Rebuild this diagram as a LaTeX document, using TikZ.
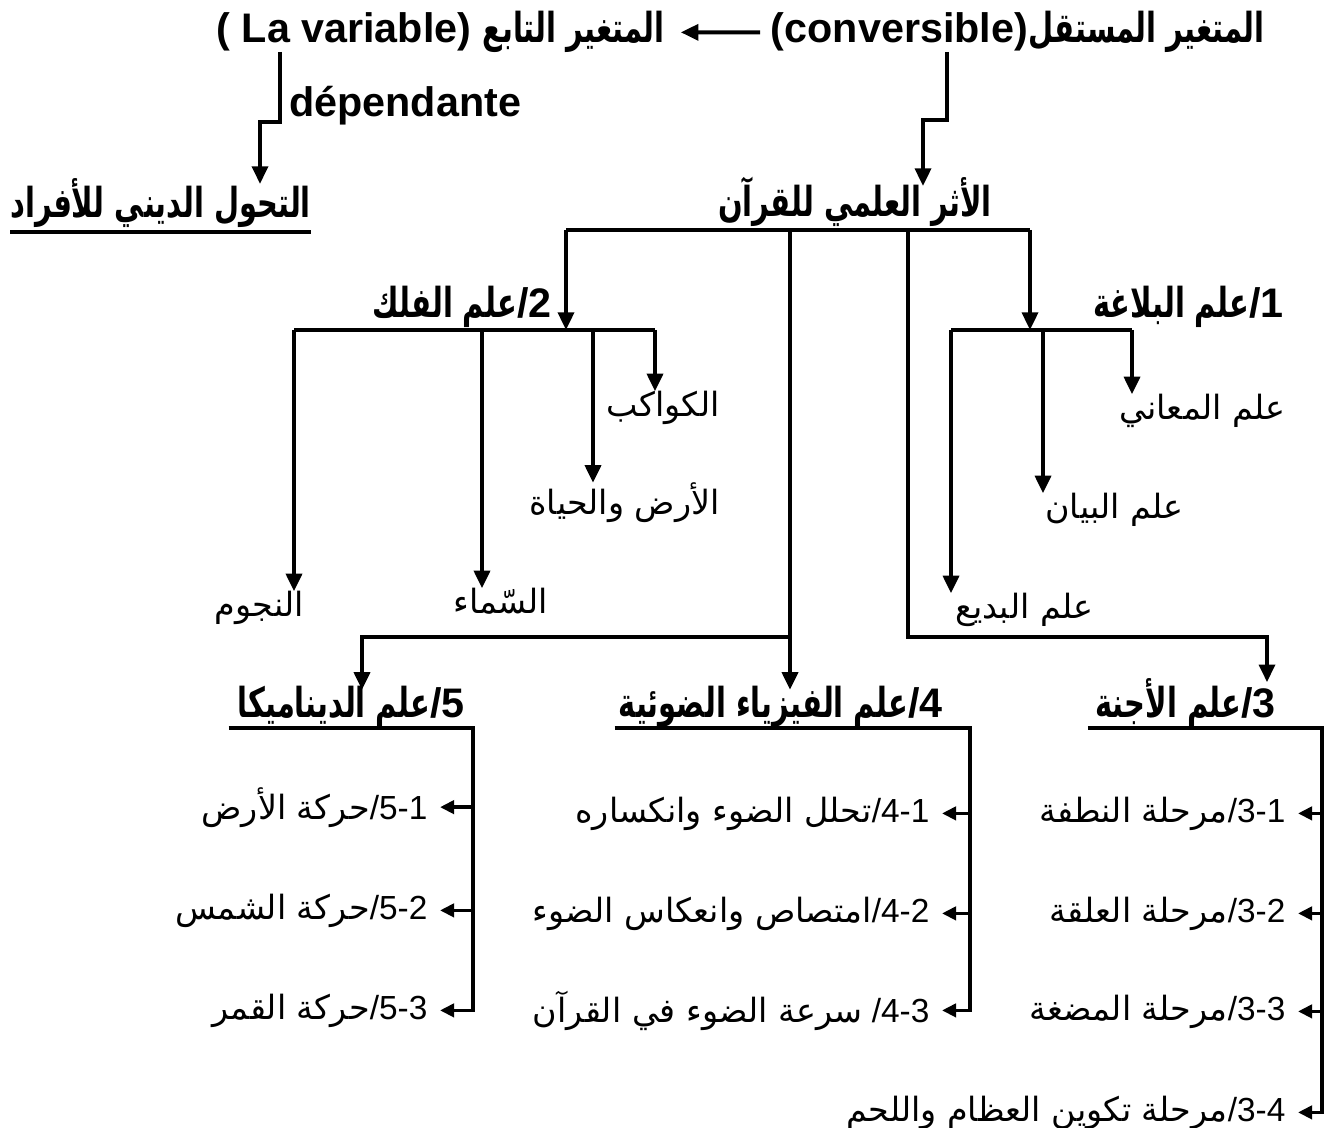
\documentclass[tikz,border=0pt]{standalone}
\usepackage{fontspec}
\setmainfont{Liberation Sans}
\newfontfamily\arabicfont[Script=Arabic, BoldFeatures={FakeStretch=0.70}]{DejaVu Sans}
\TeXXeTstate=1
\usetikzlibrary{arrows.meta}
\newcommand{\arb}[1]{{\arabicfont\beginR #1\endR}}
\tikzset{
  txt/.style={inner sep=0pt, font=\fontsize{19}{22}\selectfont},
  head/.style={inner sep=0pt, font=\fontsize{23.5}{27}\selectfont\bfseries},
  item/.style={txt, anchor=base east, inner xsep=7pt},
  line/.style={line width=2.2pt},
  arr/.style={line, -{Triangle[width=9pt,length=10pt]}},
  sarr/.style={line width=2pt, -{Triangle[width=7.5pt,length=8pt]}},
}
\begin{document}
\begin{tikzpicture}[x=0.02cm,y=-0.02cm]
\useasboundingbox (0,0) rectangle (1340,1128);
% variables
\node[head,anchor=base east] (indep) at (1265,43) {\arb{المتغير المستقل}};
\node[head,anchor=base east] (conv) at (indep.base west) {(conversible)};
\node[head,anchor=base east] (dep) at (665,43) {\arb{المتغير التابع}};
\node[head,anchor=base east] (lavar) at ([xshift=-6pt]dep.base west) {( La variable)};
\node[head,anchor=base west] (depb) at (289,117) {dépendante};
\node[head,anchor=base west] (tahawul) at (10,218) {\arb{التحول الديني للأفراد}};
\node[head,anchor=base] (athar) at (855,217) {\arb{الأثر العلمي للقرآن}};
\draw[arr] ([xshift=-6pt]conv.west) -- ([xshift=9pt]dep.east);
\draw[line] ([yshift=-8pt]tahawul.base west) -- ([yshift=-8pt]tahawul.base east);
% jogs down from the variables
\coordinate (j1) at (280,122);
\coordinate (j2) at (260,122);
\draw[arr] (j1 |- lavar.south) -- (j1) -- (j2) -- ([yshift=-3pt]j2 |- tahawul.north);
\coordinate (j3) at (947,120);
\coordinate (j4) at (923,120);
\draw[arr] (j3 |- conv.south) -- (j3) -- (j4) -- ([yshift=-5pt]j4 |- athar.north);
% main branches
\node[head,anchor=base east] (balagha) at (1284,318) {\arb{علم البلاغة}/1};
\node[head,anchor=base east] (falak) at (552,318) {\arb{علم الفلك}/2};
\node[head,anchor=base east] (ajinna) at (1276,718) {\arb{علم الأجنة}/3};
\node[head,anchor=base east] (phys) at (943,718) {\arb{علم الفيزياء الضوئية}/4};
\node[head,anchor=base east] (dyn) at (465,718) {\arb{علم الديناميكا}/5};
\coordinate (r2) at (566,230);
\coordinate (r5) at (790,230);
\coordinate (r3) at (908,230);
\coordinate (r1) at (1030,230);
\coordinate (s2) at (566,330);
\coordinate (s1) at (1030,330);
\draw[line] (r2) -- (r1);
\draw[arr] (r2) -- (s2);
\draw[arr] (r1) -- (s1);
\coordinate (b5) at (790,637);
\coordinate (t5) at (362,637);
\coordinate (b3) at (908,637);
\coordinate (t3) at (1267,637);
\draw[arr] (r5) -- ([yshift=-2pt]r5 |- phys.north);
\draw[arr] (b5) -- (t5) -- ([yshift=-2pt]t5 |- dyn.north);
\draw[arr] (r3) -- (b3) -- (t3) -- ([yshift=-2pt]t3 |- ajinna.north);
% sciences of rhetoric
\node[txt,anchor=base east] (maani) at (1286,420) {\arb{علم المعاني}};
\node[txt,anchor=base west] (bayan) at (1045,519) {\arb{علم البيان}};
\node[txt,anchor=base west] (badi) at (955,619) {\arb{علم البديع}};
\coordinate (k1a) at (1132,330);
\coordinate (k1b) at (1043,330);
\coordinate (k1c) at (951,330);
\draw[line] (k1c) -- (k1a);
\draw[arr] (k1a) -- (k1a |- maani.north);
\draw[arr] (k1b) -- (k1b |- bayan.north);
\draw[arr] (k1c) -- (k1c |- badi.north);
% astronomy
\node[txt,anchor=base east] (kawakib) at (720,417) {\arb{الكواكب}};
\node[txt,anchor=base east] (ard) at (720,515) {\arb{الأرض والحياة}};
\node[txt,anchor=base] (samaa) at (501,614) {\arb{السّماء}};
\node[txt,anchor=base east] (nujum) at (304,617) {\arb{النجوم}};
\coordinate (k2a) at (655,330);
\coordinate (k2b) at (593,330);
\coordinate (k2c) at (482,330);
\coordinate (k2d) at (294,330);
\draw[line] (k2d) -- (k2a);
\draw[arr] (k2a) -- (k2a |- kawakib.north);
\draw[arr] (k2b) -- (k2b |- ard.north);
\draw[arr] (k2c) -- (k2c |- samaa.north);
\draw[arr] (k2d) -- (k2d |- nujum.north);
% embryology
\node[item] (i31) at (1298,822) {\arb{مرحلة النطفة}/3-1};
\node[item] (i32) at (1298,922) {\arb{مرحلة العلقة}/3-2};
\node[item] (i33) at (1298,1020) {\arb{مرحلة المضغة}/3-3};
\node[item] (i34) at (1298,1121) {\arb{مرحلة تكوين العظام واللحم}/3-4};
\coordinate (v3) at (1322,728);
\draw[sarr] ([xshift=-4pt]v3 -| ajinna.west) -- (v3) |- (i34.east);
\draw[sarr] (v3 |- i31.east) -- (i31.east);
\draw[sarr] (v3 |- i32.east) -- (i32.east);
\draw[sarr] (v3 |- i33.east) -- (i33.east);
% optical physics
\node[item] (i41) at (942,822) {\arb{تحلل الضوء وانكساره}/4-1};
\node[item] (i42) at (942,922) {\arb{امتصاص وانعكاس الضوء}/4-2};
\node[item] (i43) at (942,1022) {\arb{سرعة الضوء في القرآن} /4-3};
\coordinate (v4) at (970,728);
\draw[sarr] ([xshift=-2pt]v4 -| phys.west) -- (v4) |- (i43.east);
\draw[sarr] (v4 |- i41.east) -- (i41.east);
\draw[sarr] (v4 |- i42.east) -- (i42.east);
% dynamics
\node[item] (i51) at (440,819) {\arb{حركة الأرض}/5-1};
\node[item] (i52) at (440,919) {\arb{حركة الشمس}/5-2};
\node[item] (i53) at (440,1019) {\arb{حركة القمر}/5-3};
\coordinate (v5) at (473,728);
\draw[sarr] ([xshift=-5pt]v5 -| dyn.west) -- (v5) |- (i53.east);
\draw[sarr] (v5 |- i51.east) -- (i51.east);
\draw[sarr] (v5 |- i52.east) -- (i52.east);
\end{tikzpicture}
\end{document}
